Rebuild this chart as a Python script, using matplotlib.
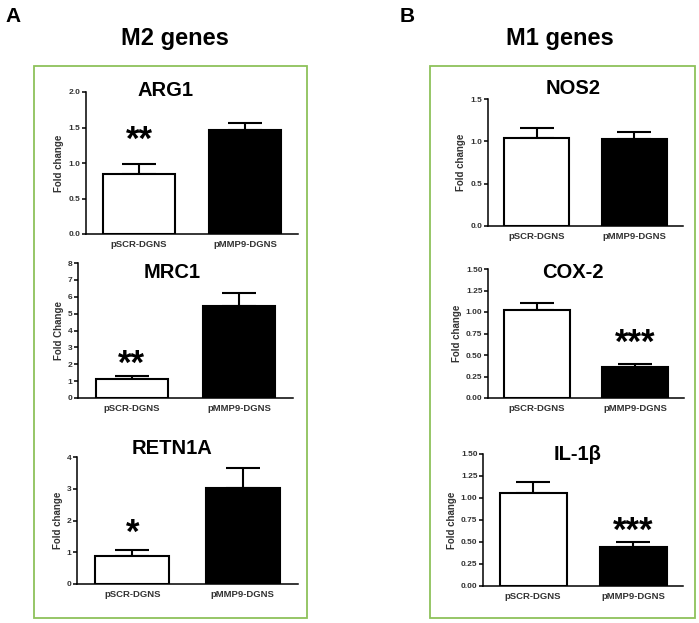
import matplotlib.pyplot as plt
from matplotlib.patches import Rectangle

plt.rcParams['font.family'] = ['Liberation Sans', 'DejaVu Sans']

groups = ["pSCR-DGNS", "pMMP9-DGNS"]

genes = ["ARG1", "MRC1", "RETN1A", "NOS2", "COX-2", "IL-1\u03b2"]
means = [[0.84, 1.46], [1.10, 5.45], [0.88, 3.03],
         [1.04, 1.03], [1.02, 0.36], [1.06, 0.44]]
errors = [[0.14, 0.11], [0.20, 0.80], [0.19, 0.62],
          [0.12, 0.08], [0.09, 0.04], [0.12, 0.06]]
stars = ["**", "**", "*", "", "***", "***"]
star_pos = [(0, 1.32), (0, 2.0), (0, 1.6), None, (1, 0.63), (1, 0.62)]
ylabels = ["Fold change", "Fold Change", "Fold change",
           "Fold change", "Fold change", "Fold change"]
ymax = [2.0, 8, 4, 1.5, 1.5, 1.5]
yticks = [[0.0, 0.5, 1.0, 1.5, 2.0], list(range(0, 9)), list(range(0, 5)),
          [0.0, 0.5, 1.0, 1.5], [0, .25, .5, .75, 1, 1.25, 1.5],
          [0, .25, .5, .75, 1, 1.25, 1.5]]
yfmt = ["{:.1f}", "{:d}", "{:d}", "{:.1f}", "{:.2f}", "{:.2f}"]

# axes boxes in pixels: left, top, right, bottom
boxes = [(86, 92, 298, 234), (78, 263, 293, 398), (77, 457, 298, 584),
         (488, 99, 683, 226), (488, 269, 684, 398), (483, 454, 683, 586)]
title_xy = [(165, 90), (172, 273), (172, 448), (573, 88), (573, 273), (578, 455)]

W, H = 699, 623
fig = plt.figure(figsize=(W / 100, H / 100), dpi=100)

green = "#8dc25a"
for (l, t, r, b) in [(34, 66, 307, 618), (430, 66, 695, 618)]:
    fig.patches.append(Rectangle((l / W, 1 - b / H), (r - l) / W, (b - t) / H,
                                 transform=fig.transFigure, fill=False,
                                 edgecolor=green, linewidth=1.3))

fig.text(5 / W, 1 - 16 / H, "A", fontsize=15, fontweight="bold", va="center")
fig.text(400 / W, 1 - 17 / H, "B", fontsize=15, fontweight="bold", va="center")
fig.text(175 / W, 1 - 38 / H, "M2 genes", fontsize=17, fontweight="bold",
         ha="center", va="center")
fig.text(560 / W, 1 - 38 / H, "M1 genes", fontsize=17, fontweight="bold",
         ha="center", va="center")

for i, gene in enumerate(genes):
    l, t, r, b = boxes[i]
    ax = fig.add_axes([l / W, 1 - b / H, (r - l) / W, (b - t) / H])
    ax.bar([0, 1], means[i], width=0.67, color=["white", "black"],
           edgecolor="black", linewidth=1.5, zorder=2)
    ax.errorbar([0, 1], means[i], yerr=[[0, 0], errors[i]], fmt="none",
                ecolor="black", elinewidth=1.5, capsize=12, capthick=1.5, zorder=1)
    ax.set_xlim(-0.5, 1.5)
    ax.set_ylim(0, ymax[i])
    ax.set_yticks(yticks[i])
    ax.set_yticklabels([yfmt[i].format(v) for v in yticks[i]],
                       fontsize=6, fontweight="bold", color="#333333")
    ax.set_xticks([0, 1])
    ax.set_xticklabels(groups, fontsize=6.8, fontweight="bold", color="#333333")
    ax.tick_params(axis="x", length=0, pad=4)
    ax.tick_params(axis="y", length=3, width=1.1, pad=1)
    for s in ["top", "right"]:
        ax.spines[s].set_visible(False)
    for s in ["left", "bottom"]:
        ax.spines[s].set_linewidth(1.1)
    ax.set_ylabel(ylabels[i], fontsize=7, fontweight="bold", color="#333333",
                  labelpad=3)
    ax.patch.set_alpha(0)
    if stars[i]:
        sx, sy = star_pos[i]
        ax.text(sx, sy, stars[i], fontsize=25, fontweight="bold",
                ha="center", va="center")
    tx, ty = title_xy[i]
    fig.text(tx / W, 1 - ty / H, gene, fontsize=14.5, fontweight="bold",
             ha="center", va="center")

fig.savefig("out.png", dpi=100)
